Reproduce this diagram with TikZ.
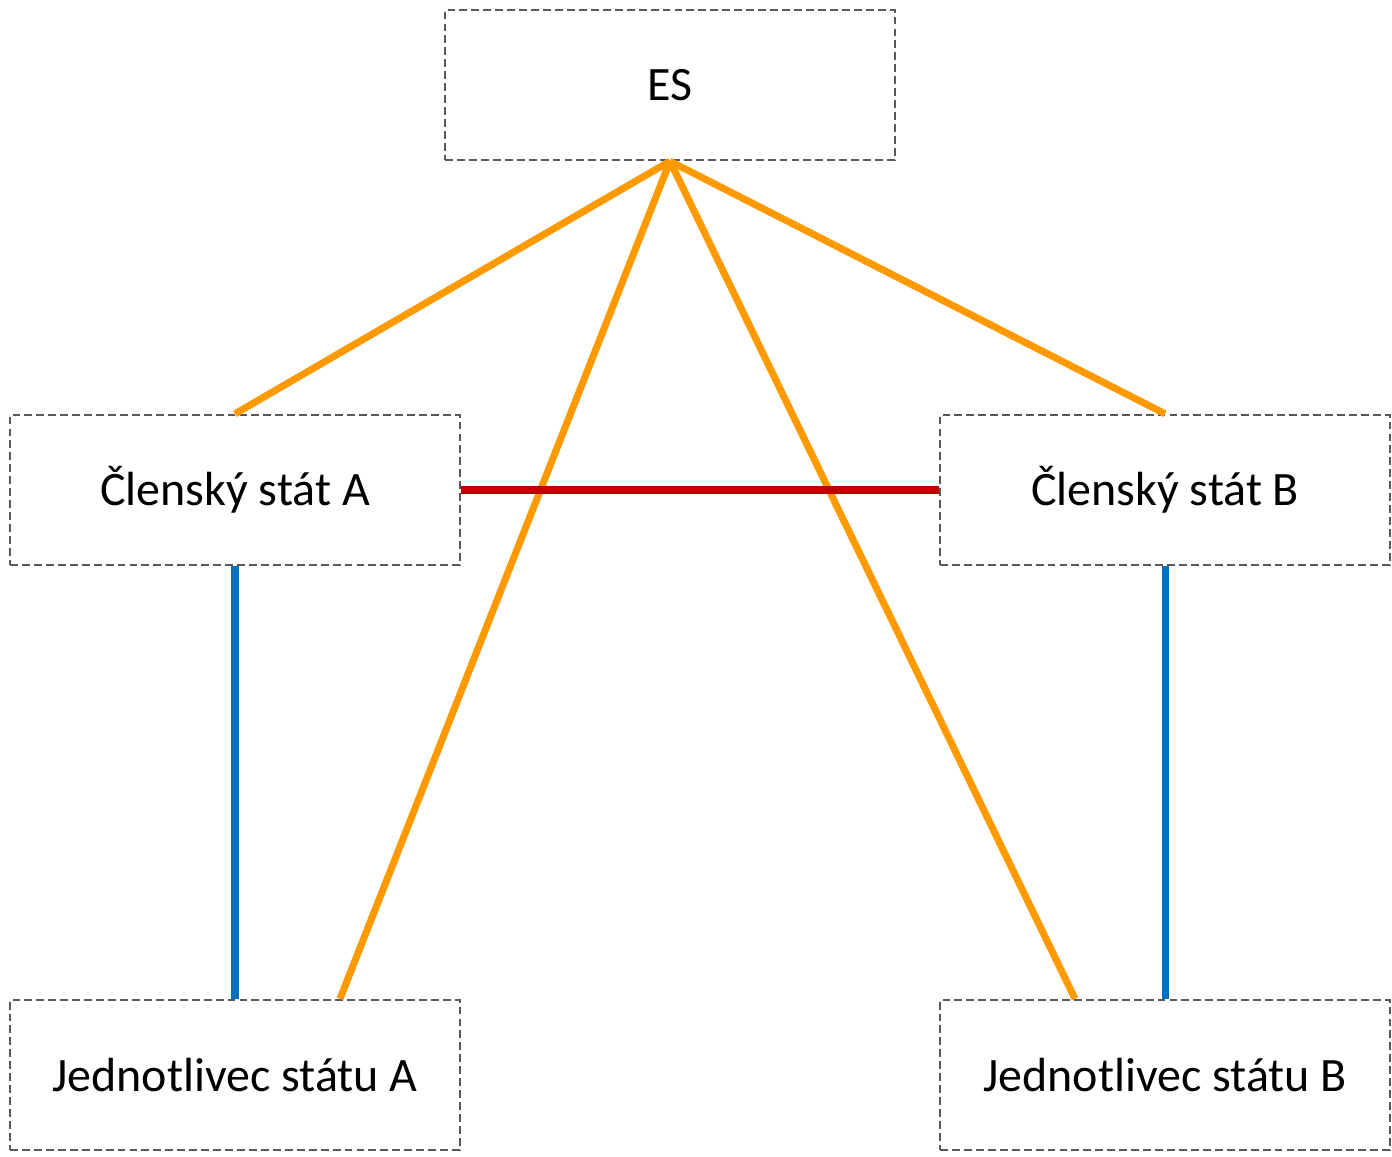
\documentclass[tikz,border=0pt]{standalone}
\usepackage{fontspec}
\setmainfont{Carlito}
\usepackage{tikz}
\usetikzlibrary{positioning}

\definecolor{esorange}{RGB}{255,153,0}
\definecolor{esred}{RGB}{192,0,0}
\definecolor{esblue}{RGB}{0,112,192}
\definecolor{boxgray}{RGB}{89,89,89}

\begin{document}
\begin{tikzpicture}[x=0.02cm,y=-0.02cm,
              entity/.style={draw=boxgray,line width=1.4pt,
                dash pattern=on 4.5pt off 2.3pt,fill=white,
                minimum width=9cm,minimum height=3cm,
                font=\fontsize{27.3}{31}\selectfont},
              eulink/.style={draw=esorange,line width=4pt},
              statelink/.style={draw=esred,line width=4.2pt},
              citizenlink/.style={draw=esblue,line width=4pt}]
  \useasboundingbox (0,0) rectangle (1392,1156);
  \node[entity] (es) at (670,85) {ES};
  \node[entity] (stateA) at (235,490) {Členský stát A};
  \node[entity] (stateB) at (1165,490) {Členský stát B};
  \node[entity] (citA) at (235,1075) {Jednotlivec státu A};
  \node[entity] (citB) at (1165,1075) {Jednotlivec státu B};
  % vazby EU
  \draw[eulink] (es.south) -- (stateA.north);
  \draw[eulink] (es.south) -- (stateB.north);
  \draw[eulink] (es.south) -- ([xshift=2.1cm]citA.north);
  \draw[eulink] (es.south) -- ([xshift=-1.8cm]citB.north);
  % mezi staty
  \draw[statelink] (stateA.east) -- (stateB.west);
  \draw[citizenlink] (stateA.south) -- (citA.north);
  \draw[citizenlink] (stateB.south) -- (citB.north);
\end{tikzpicture}
\end{document}
